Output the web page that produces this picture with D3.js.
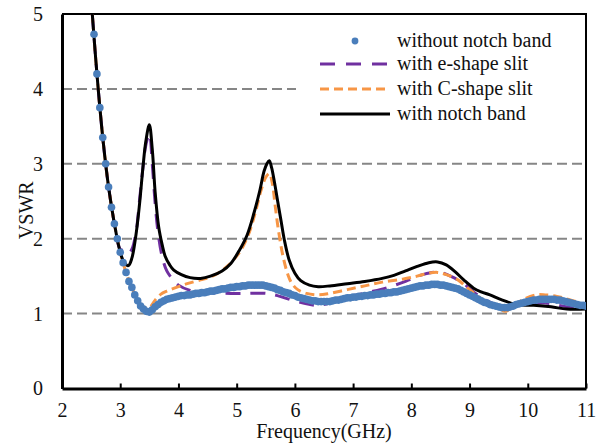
<!DOCTYPE html>
<html>
<head>
<meta charset="utf-8">
<script src="https://cdn.jsdelivr.net/npm/d3@7"></script>
<style>
  body { margin: 0; background: #fff; }
  svg text { font-family: 'Liberation Serif', 'DejaVu Serif', serif; fill: #111; }
</style>
</head>
<body>
<div id="chart"></div>
<script>
// without notch band: [GHz, VSWR], one point per 0.05 GHz (drawn as dots)
const withoutNotch = [
  [2.55,4.73],[2.60,4.20],[2.65,3.75],[2.70,3.35],[2.75,3.00],[2.80,2.69],[2.85,2.42],[2.90,2.20],
  [2.95,2.00],[3.00,1.82],[3.05,1.68],[3.10,1.55],[3.15,1.43],[3.20,1.35],[3.25,1.25],[3.30,1.17],
  [3.35,1.10],[3.40,1.06],[3.45,1.03],[3.50,1.02],[3.55,1.05],[3.60,1.09],[3.65,1.12],[3.70,1.15],
  [3.75,1.17],[3.80,1.19],[3.85,1.20],[3.90,1.21],[3.95,1.22],[4.00,1.23],[4.05,1.24],[4.10,1.24],
  [4.15,1.25],[4.20,1.25],[4.25,1.26],[4.30,1.27],[4.35,1.27],[4.40,1.28],[4.45,1.28],[4.50,1.29],
  [4.55,1.30],[4.60,1.30],[4.65,1.31],[4.70,1.32],[4.75,1.33],[4.80,1.33],[4.85,1.34],[4.90,1.35],
  [4.95,1.35],[5.00,1.36],[5.05,1.36],[5.10,1.37],[5.15,1.37],[5.20,1.38],[5.25,1.38],[5.30,1.38],
  [5.35,1.38],[5.40,1.38],[5.45,1.38],[5.50,1.37],[5.55,1.36],[5.60,1.35],[5.65,1.34],[5.70,1.32],
  [5.75,1.31],[5.80,1.29],[5.85,1.28],[5.90,1.27],[5.95,1.25],[6.00,1.24],[6.05,1.22],[6.10,1.21],
  [6.15,1.20],[6.20,1.19],[6.25,1.18],[6.30,1.17],[6.35,1.17],[6.40,1.16],[6.45,1.16],[6.50,1.16],
  [6.55,1.16],[6.60,1.16],[6.65,1.17],[6.70,1.18],[6.75,1.18],[6.80,1.19],[6.85,1.20],[6.90,1.21],
  [6.95,1.21],[7.00,1.22],[7.05,1.22],[7.10,1.23],[7.15,1.23],[7.20,1.24],[7.25,1.24],[7.30,1.25],
  [7.35,1.25],[7.40,1.26],[7.45,1.26],[7.50,1.27],[7.55,1.27],[7.60,1.28],[7.65,1.28],[7.70,1.29],
  [7.75,1.29],[7.80,1.30],[7.85,1.31],[7.90,1.32],[7.95,1.33],[8.00,1.34],[8.05,1.35],[8.10,1.36],
  [8.15,1.37],[8.20,1.37],[8.25,1.38],[8.30,1.38],[8.35,1.39],[8.40,1.39],[8.45,1.39],[8.50,1.38],
  [8.55,1.38],[8.60,1.37],[8.65,1.36],[8.70,1.35],[8.75,1.34],[8.80,1.33],[8.85,1.31],[8.90,1.29],
  [8.95,1.27],[9.00,1.25],[9.05,1.23],[9.10,1.21],[9.15,1.19],[9.20,1.17],[9.25,1.15],[9.30,1.14],
  [9.35,1.12],[9.40,1.11],[9.45,1.10],[9.50,1.09],[9.55,1.08],[9.60,1.08],[9.65,1.08],[9.70,1.09],
  [9.75,1.10],[9.80,1.12],[9.85,1.13],[9.90,1.14],[9.95,1.15],[10.00,1.16],[10.05,1.17],[10.10,1.18],
  [10.15,1.18],[10.20,1.19],[10.25,1.19],[10.30,1.19],[10.35,1.19],[10.40,1.19],[10.45,1.19],[10.50,1.18],
  [10.55,1.18],[10.60,1.17],[10.65,1.16],[10.70,1.15],[10.75,1.14],[10.80,1.13],[10.85,1.12],[10.90,1.11],
  [10.95,1.11],[11.00,1.10]
];

// with e-shape slit
const eShape = [
  [2.52,5.0],[2.60,4.20],[2.70,3.35],[2.80,2.69],[2.90,2.20],[3.00,1.86],[3.07,1.84],[3.14,1.80],
  [3.20,1.86],[3.27,2.08],[3.33,2.50],[3.39,2.95],[3.44,3.25],[3.50,3.40],[3.55,3.00],[3.60,2.47],
  [3.65,2.08],[3.72,1.76],[3.80,1.57],[3.90,1.46],[4.00,1.38],[4.20,1.31],[4.50,1.28],[4.90,1.27],
  [5.20,1.27],[5.50,1.27],[5.70,1.24],[5.95,1.18],[6.20,1.13],[6.40,1.11],[6.60,1.14],[6.90,1.22],
  [7.30,1.29],[7.60,1.35],[7.90,1.43],[8.15,1.51],[8.35,1.55],[8.50,1.55],[8.70,1.49],[8.90,1.40],
  [9.10,1.27],[9.30,1.17],[9.50,1.11],[9.70,1.10],[10.00,1.13],[10.30,1.14],[10.60,1.10],[10.90,1.07],
  [11.00,1.07]
];

// with C-shape slit
const cShape = [
  [2.52,5.0],[2.60,4.20],[2.70,3.35],[2.80,2.69],[2.90,2.20],[3.00,1.82],[3.10,1.55],[3.20,1.35],
  [3.30,1.18],[3.40,1.09],[3.50,1.08],[3.60,1.18],[3.70,1.26],[3.80,1.30],[4.00,1.36],[4.15,1.40],
  [4.38,1.45],[4.55,1.49],[4.70,1.55],[4.85,1.64],[5.05,1.82],[5.20,2.05],[5.32,2.35],[5.42,2.65],
  [5.50,2.82],[5.56,2.87],[5.61,2.75],[5.66,2.45],[5.72,2.10],[5.80,1.75],[5.88,1.52],[5.95,1.40],
  [6.05,1.32],[6.20,1.27],[6.40,1.25],[6.60,1.27],[6.90,1.32],[7.20,1.37],[7.50,1.42],[7.85,1.46],
  [8.10,1.50],[8.30,1.54],[8.45,1.55],[8.60,1.52],[8.80,1.45],[9.00,1.32],[9.20,1.20],[9.40,1.11],
  [9.52,1.06],[9.62,1.03],[9.75,1.10],[9.90,1.18],[10.14,1.25],[10.30,1.25],[10.50,1.23],[10.70,1.19],
  [10.90,1.14],[11.00,1.11]
];

// with notch band
const withNotch = [
  [2.52,5.0],[2.60,4.20],[2.70,3.35],[2.80,2.69],[2.90,2.20],[3.00,1.82],[3.07,1.68],[3.14,1.64],
  [3.20,1.74],[3.27,2.05],[3.33,2.45],[3.39,2.95],[3.44,3.30],[3.50,3.52],[3.55,3.20],[3.60,2.62],
  [3.66,2.16],[3.72,1.92],[3.77,1.77],[3.85,1.65],[3.92,1.58],[4.05,1.52],[4.20,1.48],[4.38,1.47],
  [4.55,1.50],[4.75,1.57],[4.90,1.67],[5.05,1.85],[5.18,2.05],[5.30,2.35],[5.40,2.65],[5.47,2.90],
  [5.52,3.00],[5.56,3.04],[5.60,2.95],[5.65,2.75],[5.70,2.52],[5.76,2.25],[5.82,1.98],[5.90,1.72],
  [6.00,1.54],[6.10,1.44],[6.25,1.38],[6.40,1.36],[6.60,1.37],[6.90,1.40],[7.20,1.43],[7.50,1.47],
  [7.70,1.51],[7.90,1.57],[8.10,1.63],[8.30,1.68],[8.45,1.69],[8.60,1.65],[8.75,1.56],[8.90,1.45],
  [9.07,1.34],[9.20,1.29],[9.35,1.25],[9.50,1.20],[9.64,1.16],[9.80,1.12],[10.10,1.11],[10.40,1.09],
  [10.67,1.06],[11.00,1.06]
];

const xTicks = [2, 3, 4, 5, 6, 7, 8, 9, 10, 11];
const yTicks = [0, 1, 2, 3, 4, 5];
const gridValues = [1, 2, 3, 4];
const legendLabels = ['without notch band', 'with e-shape slit', 'with C-shape slit', 'with notch band'];

const width = 603, height = 446;
const margin = {top: 14, right: 17, bottom: 57.5, left: 62};
const plotW = width - margin.left - margin.right,
  plotH = height - margin.top - margin.bottom;
const serif = "'Liberation Serif', 'DejaVu Serif', serif";

const svg = d3.select('#chart').append('svg')
  .attr('width', width)
  .attr('height', height);

const x = d3.scaleLinear().domain([2, 11]).range([margin.left, margin.left + plotW]);
const y = d3.scaleLinear().domain([0, 5]).range([margin.top + plotH, margin.top]);

svg.append('clipPath').attr('id', 'plot')
  .append('rect')
  .attr('x', margin.left).attr('y', margin.top)
  .attr('width', plotW).attr('height', plotH);

// grid lines
svg.append('g')
  .selectAll('line')
  .data(gridValues)
  .enter().append('line')
  .attr('x1', x(2)).attr('x2', x(11))
  .attr('y1', d => y(d)).attr('y2', d => y(d))
  .attr('stroke', '#868686')
  .attr('stroke-width', 2)
  .attr('stroke-dasharray', '10,5');

// axes
const xAxis = svg.append('g')
  .attr('transform', `translate(0, ${y(0)})`)
  .call(d3.axisBottom(x).tickValues(xTicks).tickFormat(d3.format('d'))
    .tickSizeInner(-5).tickSizeOuter(0).tickPadding(14));
xAxis.attr('font-family', serif);
xAxis.select('.domain').attr('stroke', '#000').attr('stroke-width', 3);
xAxis.selectAll('.tick line').attr('stroke', '#000').attr('stroke-width', 2);
xAxis.selectAll('text').attr('font-size', 20).attr('fill', '#111');

const yAxis = svg.append('g')
  .attr('transform', `translate(${x(2)}, 0)`)
  .call(d3.axisLeft(y).tickValues(yTicks).tickFormat(d3.format('d')).tickSize(0).tickPadding(19));
yAxis.attr('font-family', serif);
yAxis.select('.domain').attr('stroke', '#000').attr('stroke-width', 3);
yAxis.selectAll('text').attr('font-size', 20).attr('fill', '#111');

// top and right frame
svg.append('path')
  .attr('d', `M${x(2)},${y(5)}H${x(11)}V${y(0)}`)
  .attr('fill', 'none')
  .attr('stroke', '#000')
  .attr('stroke-width', 2);

// axis titles
svg.append('text')
  .attr('x', x(6.5)).attr('y', 438)
  .attr('text-anchor', 'middle')
  .attr('font-family', serif)
  .attr('font-size', 20)
  .text('Frequency(GHz)');

svg.append('text')
  .attr('transform', `translate(33, ${y(2.5) + 9}) rotate(-90)`)
  .attr('text-anchor', 'middle')
  .attr('font-family', serif)
  .attr('font-size', 20)
  .text('VSWR');

// legend background (hides the grid behind it)
svg.append('rect')
  .attr('x', 296).attr('y', 27)
  .attr('width', 288).attr('height', 98)
  .attr('fill', '#fff');

const line = d3.line()
  .x(d => x(d[0]))
  .y(d => y(d[1]))
  .curve(d3.curveCatmullRom.alpha(0.5));

const plot = svg.append('g').attr('clip-path', 'url(#plot)');

const lineSeries = [
  {data: eShape, color: '#7030a0', dash: '15,10'},
  {data: cShape, color: '#f79646', dash: '9,5'},
  {data: withNotch, color: '#000', dash: null}
];

lineSeries.forEach(s => {
  plot.append('path')
    .datum(s.data)
    .attr('d', line)
    .attr('fill', 'none')
    .attr('stroke', s.color)
    .attr('stroke-width', 3)
    .attr('stroke-dasharray', s.dash);
});

plot.selectAll('.dot')
  .data(withoutNotch)
  .enter().append('circle')
  .attr('class', 'dot')
  .attr('cx', d => x(d[0]))
  .attr('cy', d => y(d[1]))
  .attr('r', 3.8)
  .attr('fill', '#4a7ebb');

// legend
const legend = svg.append('g');
const rowY = [41, 64, 89, 114];
const legendStyles = [
  {color: '#4a7ebb', dash: null, dot: true},
  {color: '#7030a0', dash: '15,11'},
  {color: '#f79646', dash: '9,5'},
  {color: '#000', dash: null}
];

legendLabels.forEach((label, i) => {
  const st = legendStyles[i];
  if (st.dot) {
    legend.append('circle')
      .attr('cx', 355).attr('cy', rowY[i])
      .attr('r', 3.4)
      .attr('fill', st.color);
  } else {
    legend.append('line')
      .attr('x1', 320).attr('x2', 390)
      .attr('y1', rowY[i]).attr('y2', rowY[i])
      .attr('stroke', st.color)
      .attr('stroke-width', 3)
      .attr('stroke-dasharray', st.dash);
  }
  legend.append('text')
    .attr('x', 397).attr('y', rowY[i] + 6)
    .attr('font-family', serif)
    .attr('font-size', 20)
    .text(label);
});
</script>
</body>
</html>
